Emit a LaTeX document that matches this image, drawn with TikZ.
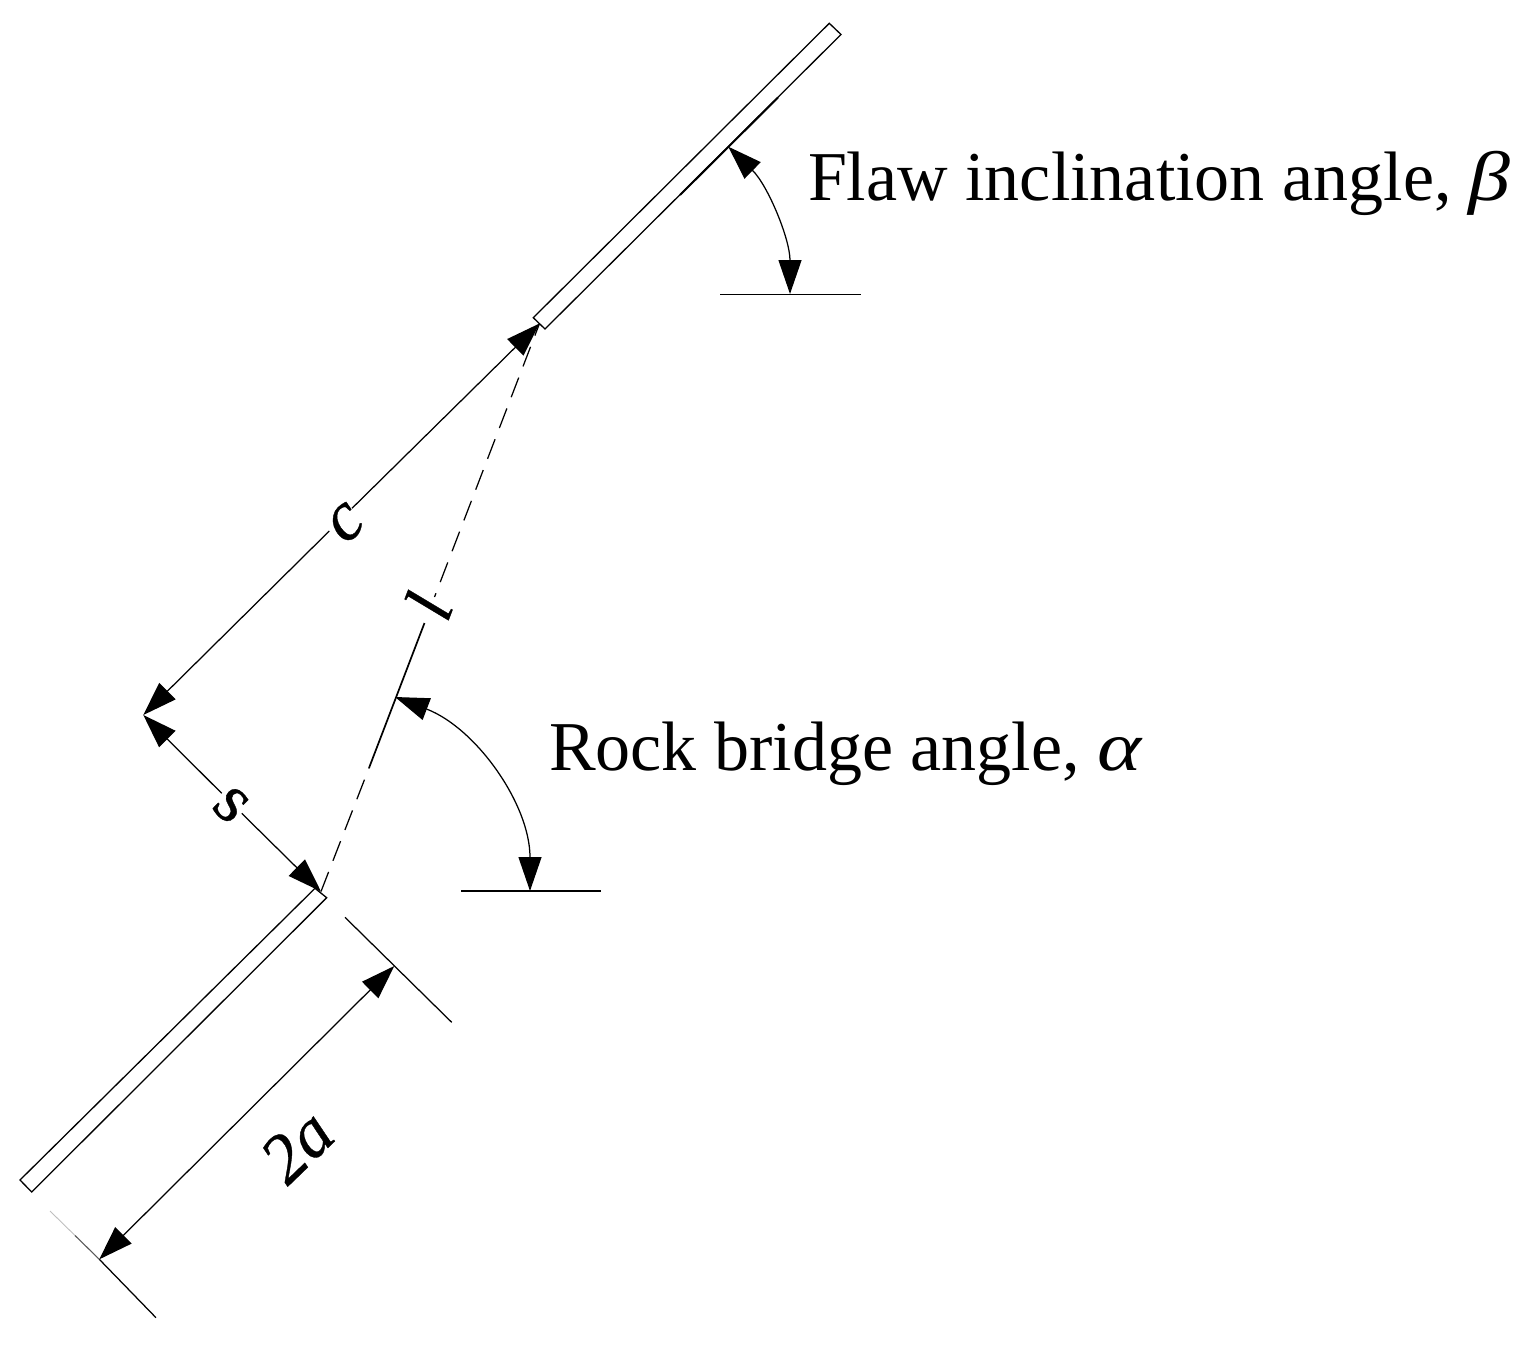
\documentclass[tikz,border=0pt]{standalone}
\usepackage{fontspec}
\setmainfont{Liberation Serif}
\newfontfamily\markfont[FakeBold=0.5]{Liberation Serif}
\newfontfamily\greekfont[FakeStretch=1.2]{Liberation Serif}
\usetikzlibrary{arrows.meta}
\tikzset{
  x=1pt,y=-1pt,
  flaw/.style={draw=black,line width=1.3pt,fill=white,line join=miter},
  thin line/.style={draw=black,line width=1.25pt},
  dim/.style={thin line,{Triangle[length=34pt,width=23pt]}-{Triangle[length=34pt,width=23pt]}},
  dimend/.style={thin line,-{Triangle[length=34pt,width=23pt]}},
  bridge/.style={thin line,dash pattern=on 21pt off 12pt},
  lab/.style={font=\fontsize{70}{70}\selectfont,inner sep=0pt,outer sep=0pt},
  mark label/.style={lab,font=\fontsize{70}{70}\selectfont\markfont\itshape},
  mark upright/.style={lab,font=\fontsize{70}{70}\selectfont\markfont},
}
\begin{document}
\begin{tikzpicture}
\useasboundingbox (0,0) rectangle (1540,1354);
% flaw corners
\coordinate (ta) at (829.3,23.3);
\coordinate (tb) at (841,34.5);
\coordinate (tc) at (545,329);
\coordinate (td) at (533.3,317.7);
\coordinate (ba) at (315,888.3);
\coordinate (bb) at (326.7,897.7);
\coordinate (bc) at (31.7,1192);
\coordinate (bd) at (20,1180);
% key points
\coordinate (topTip) at (539.5,323.5);
\coordinate (lowTip) at (321,891.5);
\coordinate (apex) at (143.3,715);
\coordinate (cUp) at (352,508.3);
\coordinate (cDown) at (329.3,531);
\coordinate (sUp) at (221.7,793.3);
\coordinate (sDown) at (241.7,813.3);
\coordinate (lUp) at (434.5,597);
\coordinate (lSolidTop) at (424.5,623);
\coordinate (lSolidLow) at (369,768);
% horizontals
\coordinate (h1a) at (720,294.5);
\coordinate (h1b) at (861,294.5);
\coordinate (h2a) at (461,891);
\coordinate (h2b) at (601,891);
% angle arcs
\coordinate (betaA) at (728.3,146.7);
\coordinate (betaB) at (790,294);
\coordinate (betaC1) at (767.8,185.3);
\coordinate (betaC2) at (790,238.8);
\coordinate (alphaA) at (395,697);
\coordinate (alphaB) at (530,891);
\coordinate (alphaC1) at (476,727.9);
\coordinate (alphaC2) at (530,804.2);
% extent of 2a
\coordinate (e1a) at (345,917.3);
\coordinate (e1b) at (451.7,1022.3);
\coordinate (e2a) at (50,1211);
\coordinate (e2m) at (75,1235.5);
\coordinate (e2n) at (99.3,1259.3);
\coordinate (e2b) at (156,1317.7);
\coordinate (d1) at (394.3,966);
\coordinate (d2) at (99.3,1259.3);
\coordinate (thickA) at (778,97.5);
\coordinate (thickB) at (680,195);

% bridge
\draw[bridge] (lowTip) -- (lSolidLow);
\draw[thin line,line width=1.7pt] (lSolidLow) -- (lSolidTop);
\draw[bridge,dash phase=17pt] (lUp) -- (topTip);

% flaws
\draw[flaw] (ta) -- (tb) -- (tc) -- (td) -- cycle;
\draw[flaw] (ba) -- (bb) -- (bc) -- (bd) -- cycle;
\draw[thin line,line width=2pt] (thickA) -- (thickB);

% dimensions
\draw[dimend] (cUp) -- (topTip);
\draw[dimend] (cDown) -- (apex);
\draw[dimend] (sUp) -- (apex);
\draw[dimend] (sDown) -- (lowTip);
\draw[dim] (d1) -- (d2);
\draw[thin line] (e1a) -- (e1b);
\draw[thin line,draw=black!25,line width=0.9pt] (e2a) -- (e2m);
\draw[thin line,draw=black!65,line width=1.1pt] (e2m) -- (e2n);
\draw[thin line] (e2n) -- (e2b);

% angles
\draw[thin line] (h1a) -- (h1b);
\draw[thin line] (h2a) -- (h2b);
\draw[dim] (betaA) .. controls (betaC1) and (betaC2) .. (betaB);
\draw[dim] (alphaA) .. controls (alphaC1) and (alphaC2) .. (alphaB);

% labels
\node[lab,anchor=base west] (flawlab) at (808,200) {Flaw inclination angle, {\greekfont\itshape β}};
\node[lab,anchor=base west] (rocklab) at (549,770) {Rock bridge angle, {\greekfont\itshape α}};
\node[mark label,rotate=44] (clab) at (346,523) {c};
\node[mark label,rotate=69] (llab) at (428,606) {l};
\node[mark upright,rotate=-44] (slab) at (231,805) {s};
\node[mark label,rotate=44] (twoa) at (297,1146) {2a};
\end{tikzpicture}
\end{document}
